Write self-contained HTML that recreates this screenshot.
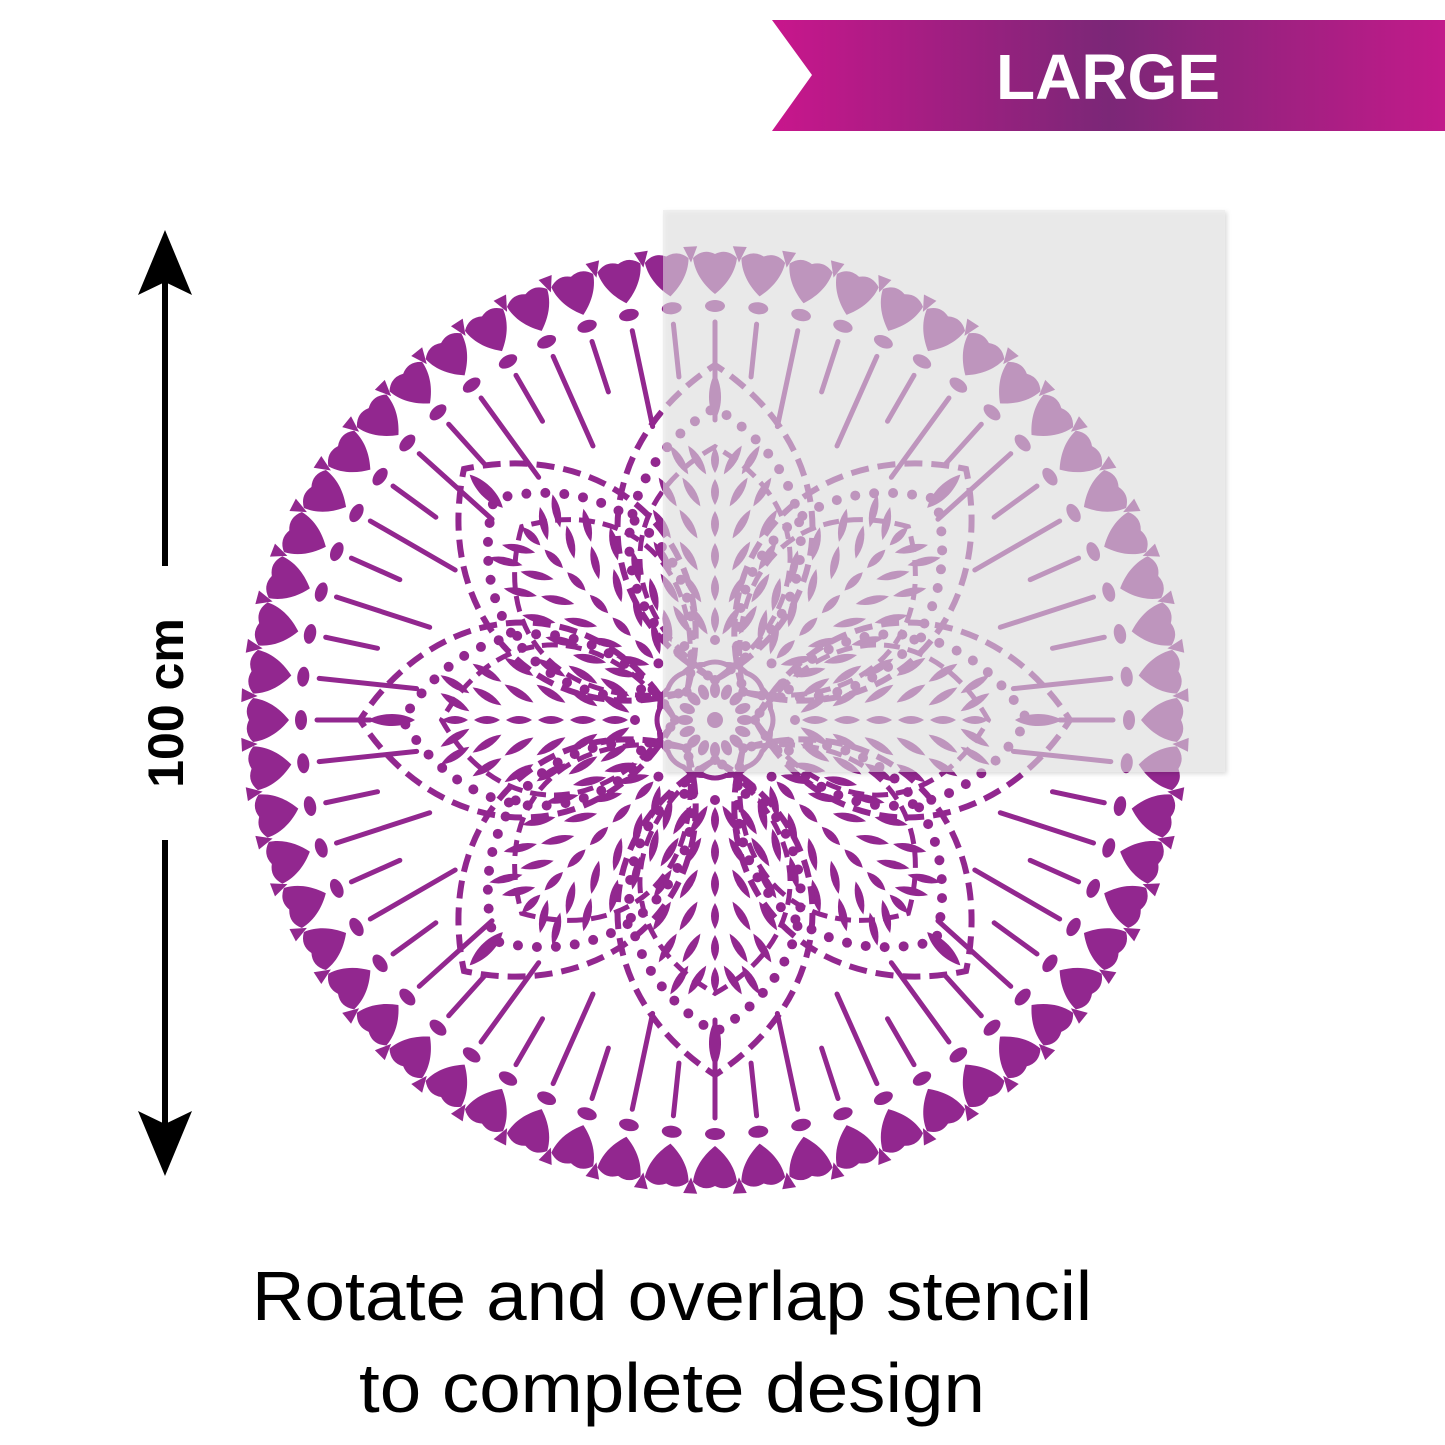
<!DOCTYPE html>
<html><head><meta charset="utf-8"><style>
html,body{margin:0;padding:0;background:#fff;width:1445px;height:1445px;overflow:hidden}
svg{display:block}
</style></head><body>
<svg id="s" width="1445" height="1445" viewBox="0 0 1445 1445" xmlns="http://www.w3.org/2000/svg">
<defs>
<linearGradient id="bg" x1="0" x2="1" y1="0" y2="0">
<stop offset="0" stop-color="#c8168c"/><stop offset="0.5" stop-color="#7b2777"/><stop offset="1" stop-color="#c21a8a"/>
</linearGradient>
<filter id="sh" x="-5%" y="-5%" width="110%" height="110%"><feDropShadow dx="2" dy="2" stdDeviation="2" flood-color="#000" flood-opacity="0.25"/></filter>
</defs>
<polygon points="772,20 1445,20 1445,131 772,131 812,75" fill="url(#bg)"/>
<text x="1108" y="99" text-anchor="middle" font-family="Liberation Sans, sans-serif" font-weight="bold" font-size="64" fill="#fff">LARGE</text>
<g id="m" fill="#92278f" stroke="#92278f"></g>
<rect x="663" y="210" width="562" height="562" fill="#e6e6e6" fill-opacity="0.55" filter="url(#sh)"/>
<line x1="165" y1="270" x2="165" y2="566" stroke="#000" stroke-width="6"/>
<line x1="165" y1="840" x2="165" y2="1140" stroke="#000" stroke-width="6"/>
<polygon points="165,230 192,295 165,282 138,295" fill="#000"/>
<polygon points="165,1176 192,1111 165,1124 138,1111" fill="#000"/>
<text transform="translate(183,703) rotate(-90)" text-anchor="middle" font-family="Liberation Sans, sans-serif" font-weight="bold" font-size="50" fill="#000">100 cm</text>
<text x="672" y="1320" text-anchor="middle" font-family="Liberation Sans, sans-serif" font-size="70" textLength="840" lengthAdjust="spacingAndGlyphs" fill="#000">Rotate and overlap stencil</text>
<text x="672" y="1412" text-anchor="middle" font-family="Liberation Sans, sans-serif" font-size="70" textLength="626" lengthAdjust="spacingAndGlyphs" fill="#000">to complete design</text>
</svg>
<script>
var g=document.getElementById('m'),h='';
var cx=715,cy=720;
for(var i=0;i<60;i++){
 var a=i*6;
 var L=(i%2==0)?300:345;
 h+='<g transform="translate('+cx+','+cy+') rotate('+a+')">'+
 '<path stroke="none" d="M0,-426 C10,-434 20,-446 22,-462 Q12,-472 0,-466 Q-12,-472 -22,-462 C-20,-446 -10,-434 0,-426Z"/>'+
 '<ellipse stroke="none" cx="0" cy="-414" rx="10" ry="6"/>'+
 '<line x1="0" y1="-398" x2="0" y2="-'+L+'" stroke-width="5" stroke-linecap="round"/>'+
 '<g transform="rotate(3)"><path stroke="none" d="M-7,-474 L7,-474 L0,-458Z"/></g>'+
 '</g>';
}
function leaf(x,y,ang,len){
 return '<g transform="translate('+x.toFixed(1)+','+y.toFixed(1)+') rotate('+ang+')"><path d="M0,-'+len+' Q8,0 0,'+len+' Q-8,0 0,-'+len+'Z" stroke="none"/></g>';
}
function petal(a,sc0){
 var s='<g transform="translate('+cx+','+cy+') rotate('+a+')" fill="none">';
 var W=130*sc0,T=355*sc0;
 var P=function(sc){return 'M0,-40 C'+(W*sc)+',-110 '+(W*sc)+',-'+(T*0.65*sc+40)+' 0,-'+(T*sc)+' C-'+(W*sc)+',-'+(T*0.65*sc+40)+' -'+(W*sc)+',-110 0,-40';};
 s+='<path d="'+P(1)+'" stroke-width="6" stroke-dasharray="18 9"/>';
 s+='<path d="'+P(0.88)+'" stroke-width="10" stroke-dasharray="0 19" stroke-linecap="round"/>';
 s+='<path d="'+P(0.77)+'" stroke-width="5" stroke-dasharray="16 8"/>';
 s+='<path d="M0,-'+(T-55)+' C9,-'+(T-40)+' 7,-'+(T-20)+' 0,-'+(T-8)+' C-7,-'+(T-20)+' -9,-'+(T-40)+' 0,-'+(T-55)+'Z" fill="#92278f" stroke="none"/>';
 s+='</g>';
 s+='<g transform="translate('+cx+','+cy+') rotate('+a+')">';
 for(var r=100;r<=T-80;r+=32){
  var t=(r-40)/(T-40); var hw=W*0.75*Math.sin(Math.PI*Math.min(1,t*1.1))*0.55;
  s+=leaf(0,-r,0,13);
  for(var k=1;k<=2;k++){var x=hw*k/2; if(x<10)continue;
   s+=leaf(x,-r,32,17)+leaf(-x,-r,-32,17);}
 }
 s+='</g>';
 return s;
}
for(var j=0;j<8;j++){h+=petal(j*45,1);}
h+='<circle cx="'+cx+'" cy="'+cy+'" r="8" stroke="none"/>';
for(var j=0;j<16;j++){h+='<g transform="translate('+cx+','+cy+') rotate('+(j*22.5)+')"><ellipse cx="0" cy="-30" rx="5" ry="8" stroke="none"/><path d="M-12,-55 Q0,-61 12,-55" fill="none" stroke-width="5"/><circle cx="0" cy="-80" r="5" stroke="none"/></g>';}
g.innerHTML=h;
</script>
</body></html>
